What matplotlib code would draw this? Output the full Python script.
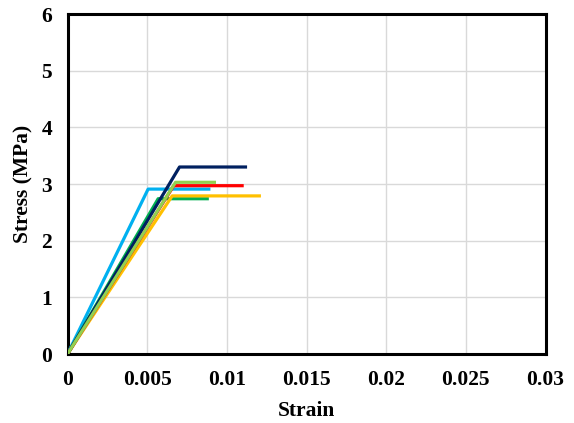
import matplotlib
matplotlib.use("Agg")
import matplotlib.pyplot as plt

# Series data (strain, stress) for each specimen: origin, yield corner, end
series_names = ["S1", "S2", "S3", "S4", "S5", "S6"]
strain_s1 = [0.0, 0.00506, 0.00897]
stress_s1 = [0.0, 2.91, 2.91]
strain_s2 = [0.0, 0.00569, 0.00887]
stress_s2 = [0.0, 2.74, 2.74]
strain_s3 = [0.0, 0.00657, 0.01214]
stress_s3 = [0.0, 2.79, 2.79]
strain_s4 = [0.0, 0.00667, 0.01106]
stress_s4 = [0.0, 2.97, 2.97]
strain_s5 = [0.0, 0.00703, 0.01127]
stress_s5 = [0.0, 3.30, 3.30]
strain_s6 = [0.0, 0.00678, 0.00932]
stress_s6 = [0.0, 3.03, 3.03]

colors = ["#00B0F0", "#00B050", "#FFC000", "#FF0000", "#002060", "#92D050"]

x_ticks = [0, 0.005, 0.01, 0.015, 0.02, 0.025, 0.03]
x_tick_labels = ["0", "0.005", "0.01", "0.015", "0.02", "0.025", "0.03"]
y_ticks = [0, 1, 2, 3, 4, 5, 6]

plt.rcParams['font.family'] = ['Liberation Serif', 'DejaVu Serif']

fig = plt.figure(figsize=(5.74, 4.23), dpi=100)
ax = fig.add_axes([67.5/574, 1 - 354/423, (545.5-67.5)/574, (354-14)/423])

strains = [strain_s1, strain_s2, strain_s3, strain_s4, strain_s5, strain_s6]
stresses = [stress_s1, stress_s2, stress_s3, stress_s4, stress_s5, stress_s6]
for name, xs, ys, c in zip(series_names, strains, stresses, colors):
    ax.plot(xs, ys, color=c, lw=2.3, solid_capstyle='butt', label=name, zorder=3)

ax.set_xlim(0, 0.03)
ax.set_ylim(0, 6)
ax.set_xticks(x_ticks)
ax.set_xticklabels(x_tick_labels)
ax.set_yticks(y_ticks)
ax.grid(True, color="#d9d9d9", lw=1.0, zorder=0)
ax.set_axisbelow(True)
for s in ax.spines.values():
    s.set_linewidth(2.2)
    s.set_color("black")
ax.tick_params(axis='x', length=0, labelsize=15.5, pad=11.5)
ax.tick_params(axis='y', length=0, labelsize=15.5, pad=11)
for lbl in ax.get_xticklabels() + ax.get_yticklabels():
    lbl.set_fontweight('bold')
ax.set_xlabel("Strain", fontsize=15.5, fontweight='bold', labelpad=8)
ax.set_ylabel("Stress (MPa)", fontsize=15.5, fontweight='bold', labelpad=6)

fig.savefig("out.png", dpi=100)
